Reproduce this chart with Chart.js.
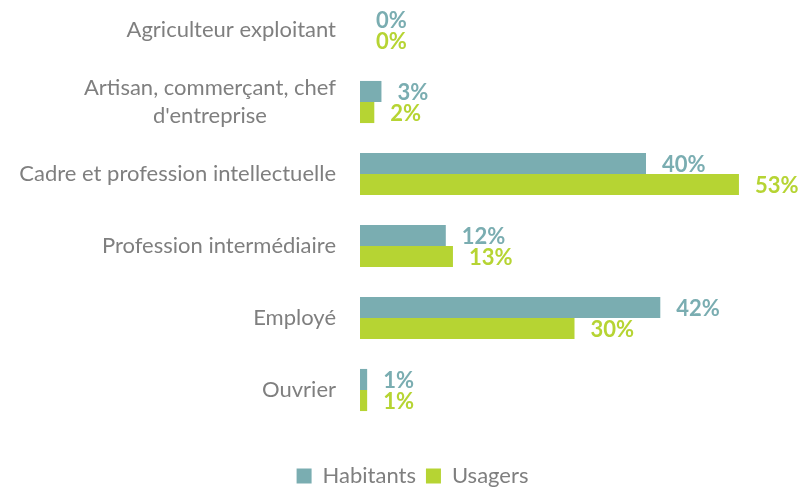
<!DOCTYPE html>
<html>
<head>
<meta charset="utf-8">
<script src="https://cdn.jsdelivr.net/npm/chart.js@4"></script>
<style>
  html, body { margin: 0; padding: 0; background: #fff; }
  .chart-container { width: 805px; height: 489px; }
</style>
</head>
<body>
<div class="chart-container"><canvas id="myChart"></canvas></div>
<script>
const categories = [
  ["Agriculteur exploitant"],
  ["Artisan, commerçant, chef", "d'entreprise"],
  ["Cadre et profession intellectuelle"],
  ["Profession intermédiaire"],
  ["Employé"],
  ["Ouvrier"]
];
const habitants = [0, 3, 40, 12, 42, 1];
const usagers = [0, 2, 53, 13, 30, 1];

const FONT = "Lato, 'Open Sans', sans-serif";
const grey = '#7f7f7f';
const teal = '#7aadb1';
const green = '#b6d433';

// category labels, multi-line centered, right aligned block
const categoryLabels = {
  id: 'categoryLabels',
  afterDraw(chart) {
    const c = chart.ctx;
    const y = chart.scales.y;
    const right = chart.chartArea.left - 24;
    c.save();
    c.font = '22px ' + FONT;
    c.fillStyle = grey;
    c.textAlign = 'center';
    c.textBaseline = 'middle';
    categories.forEach((lines, i) => {
      const w = Math.max(...lines.map(l => c.measureText(l).width));
      const cy = y.getPixelForValue(i);
      const lh = 28;
      lines.forEach((l, k) => {
        c.fillText(l, right - w / 2, cy + (k - (lines.length - 1) / 2) * lh);
      });
    });
    c.restore();
  }
};

const valueLabels = {
  id: 'valueLabels',
  afterDatasetsDraw(chart) {
    const c = chart.ctx;
    c.save();
    c.font = 'bold 22px ' + FONT;
    c.textAlign = 'left';
    c.textBaseline = 'middle';
    chart.data.datasets.forEach((ds, i) => {
      c.fillStyle = ds.backgroundColor;
      chart.getDatasetMeta(i).data.forEach((bar, j) => {
        c.fillText(ds.data[j] + '%', bar.x + 16, bar.y + 1);
      });
    });
    c.restore();
  }
};

const shiftLegend = {
  id: 'shiftLegend',
  afterLayout(chart) {
    const lg = chart.legend;
    lg.top += 8; lg.bottom += 8;
    lg.left += 18; lg.right += 18;
  }
};

const ctx = document.getElementById('myChart');

new Chart(ctx, {
  type: 'bar',
  data: {
    labels: categories,
    datasets: [
      { label: 'Habitants', data: habitants, backgroundColor: teal, clip: false },
      { label: 'Usagers', data: usagers, backgroundColor: green, clip: false }
    ]
  },
  options: {
    indexAxis: 'y',
    responsive: true,
    maintainAspectRatio: false,
    animation: false,
    layout: { padding: { top: 30, right: 16, left: 0, bottom: 0 } },
    datasets: { bar: { categoryPercentage: 0.585, barPercentage: 1 } },
    scales: {
      x: {
        min: 0, max: 60,
        grid: { display: false },
        border: { display: false },
        ticks: { display: false },
        afterFit: s => { s.height = 57; }
      },
      y: {
        offset: false,
        grid: { display: false },
        border: { display: false },
        ticks: { display: false },
        afterFit: s => { s.width = 360; }
      }
    },
    plugins: {
      tooltip: { enabled: false },
      legend: {
        position: 'bottom',
        labels: {
          font: { family: FONT, size: 22 },
          color: grey,
          boxWidth: 15,
          boxHeight: 15,
          padding: 10
        }
      }
    }
  },
  plugins: [categoryLabels, valueLabels, shiftLegend]
});
</script>
</body>
</html>
